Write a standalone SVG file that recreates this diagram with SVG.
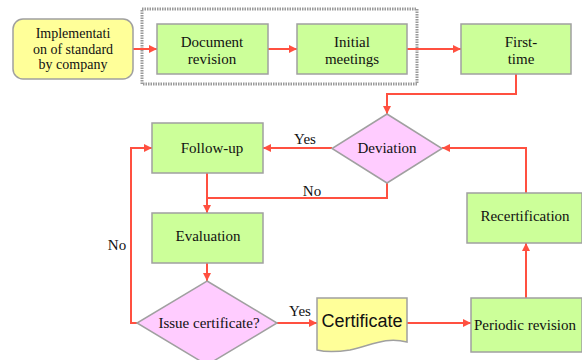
<svg xmlns="http://www.w3.org/2000/svg" width="582" height="360" viewBox="0 0 582 360">
<style>
.box{fill:#ccff99;stroke:#a0a0a0;stroke-width:1.5}
.dia{fill:#ffccff;stroke:#a0a0a0;stroke-width:1.5}
.yel{fill:#ffff99;stroke:#a0a0a0;stroke-width:1.5}
.c{fill:none;stroke:#ff5040;stroke-width:2}
</style>
<defs>
<marker id="ah" viewBox="0 0 10 10" refX="10" refY="5" markerWidth="4" markerHeight="4" orient="auto" markerUnits="strokeWidth">
<path d="M0,0 L10,5 L0,10 z" fill="#ff5040"/>
</marker>
</defs>
<rect x="142" y="9" width="275" height="75" fill="none" stroke="#999" stroke-width="3" stroke-dasharray="1.5 1"/>
<g font-family="Liberation Serif, Times New Roman, serif" font-size="15" fill="#111" text-anchor="middle">
<g id="connectors">
<path class="c" d="M133,49 H157" marker-end="url(#ah)"/>
<path class="c" d="M268,49 H297" marker-end="url(#ah)"/>
<path class="c" d="M407,49 H461" marker-end="url(#ah)"/>
<path class="c" d="M516,74 V94 H387 V114" marker-end="url(#ah)"/>
<path class="c" d="M332,148 H263" marker-end="url(#ah)"/>
<path class="c" d="M387,183 V198 H207"/>
<path class="c" d="M207,173 V213" marker-end="url(#ah)"/>
<path class="c" d="M207,263 V281" marker-end="url(#ah)"/>
<path class="c" d="M137,323 H131 V148 H152" marker-end="url(#ah)"/>
<path class="c" d="M277,323 H317" marker-end="url(#ah)"/>
<path class="c" d="M407,323 H471" marker-end="url(#ah)"/>
<path class="c" d="M526,298 V243" marker-end="url(#ah)"/>
<path class="c" d="M526,193 V148 H442" marker-end="url(#ah)"/>
<text x="305" y="144">Yes</text>
<text x="312" y="196">No</text>
<text x="117" y="250">No</text>
<text x="300" y="316">Yes</text>
</g>
<g id="implementation">
<rect class="yel" x="13" y="19" width="120" height="60" rx="10"/>
<text x="73" y="38" font-size="14">Implementati</text>
<text x="73" y="54" font-size="14">on of standard</text>
<text x="73" y="69" font-size="14">by company</text>
</g>
<g id="docrev">
<rect class="box" x="157" y="24" width="111" height="50"/>
<text x="212" y="47">Document</text>
<text x="212" y="64">revision</text>
</g>
<g id="initial">
<rect class="box" x="297" y="24" width="110" height="50"/>
<text x="352" y="47">Initial</text>
<text x="352" y="64">meetings</text>
</g>
<g id="firsttime">
<rect class="box" x="461" y="24" width="110" height="50"/>
<text x="521" y="47">First-</text>
<text x="521" y="64">time</text>
</g>
<g id="deviation">
<path class="dia" d="M387,114 L442,148.5 L387,183 L332,148.5 Z"/>
<text x="387" y="153">Deviation</text>
</g>
<g id="followup">
<rect class="box" x="152" y="123" width="111" height="50"/>
<text x="212" y="153">Follow-up</text>
</g>
<g id="evaluation">
<rect class="box" x="152" y="213" width="111" height="50"/>
<text x="208" y="241">Evaluation</text>
</g>
<g id="issue">
<path class="dia" d="M207,281 L277,323 L207,365 L137,323 Z"/>
<text x="209" y="328">Issue certificate?</text>
</g>
<g id="certificate">
<path class="yel" d="M317,298 H407 V342 C385,336 370,346 350,350 C337,352 325,352 317,350 Z"/>
<text x="362" y="327" font-family="Liberation Sans, Arial, sans-serif" font-size="18">Certificate</text>
</g>
<g id="periodic">
<rect class="box" x="471" y="298" width="111" height="54"/>
<text x="525" y="330">Periodic revision</text>
</g>
<g id="recert">
<rect class="box" x="467" y="193" width="115" height="50"/>
<text x="525" y="221">Recertification</text>
</g>
</g>
</svg>
